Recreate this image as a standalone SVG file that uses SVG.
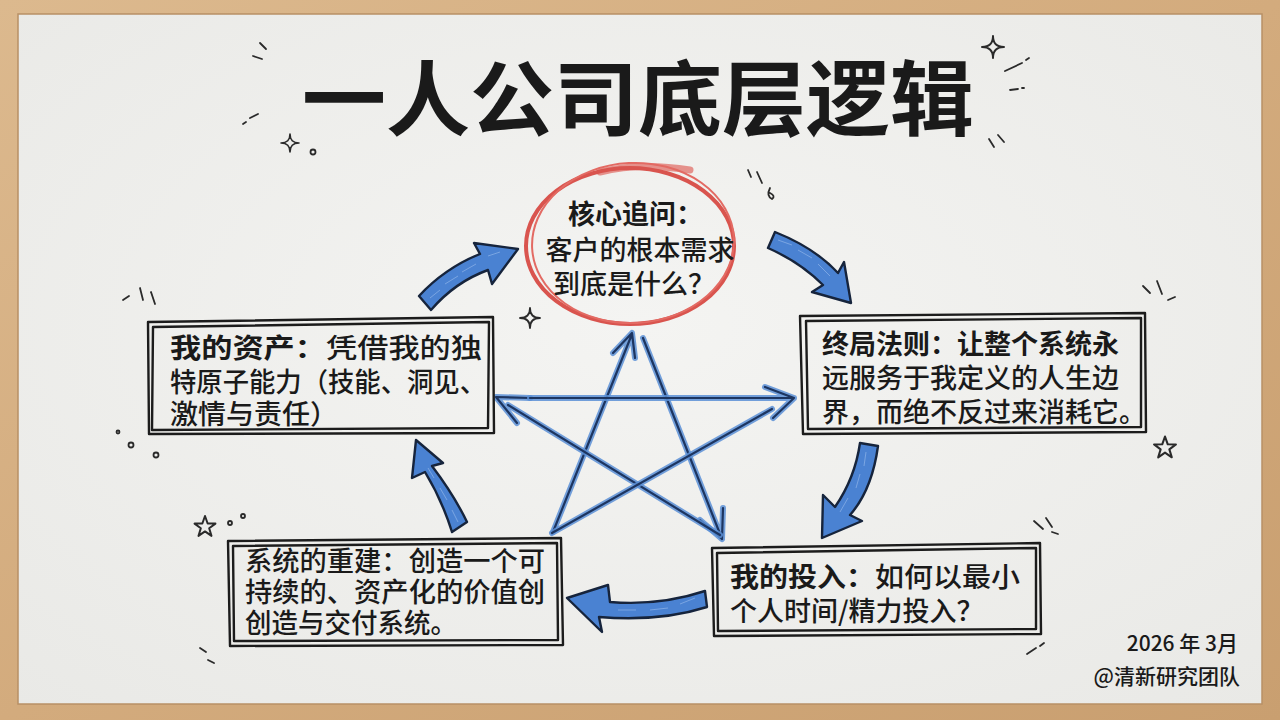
<svg xmlns="http://www.w3.org/2000/svg" width="1280" height="720" viewBox="0 0 1280 720">
<defs>
<linearGradient id="wood" x1="0" y1="0" x2="1" y2="1">
<stop offset="0" stop-color="#dcb98e"/>
<stop offset="0.5" stop-color="#d3ab7d"/>
<stop offset="1" stop-color="#c99f70"/>
</linearGradient>
<radialGradient id="board" cx="0.5" cy="0.45" r="0.75">
<stop offset="0" stop-color="#f4f4f2"/>
<stop offset="1" stop-color="#e9e9e6"/>
</radialGradient>
<path id="spark" d="M0,-10 Q0,0 10,0 Q0,0 0,10 Q0,0 -10,0 Q0,0 0,-10 Z"/>
<path id="star5" d="M0,-10 L2.4,-3.2 L9.5,-3.1 L3.8,1.2 L5.9,8.1 L0,4 L-5.9,8.1 L-3.8,1.2 L-9.5,-3.1 L-2.4,-3.2 Z"/>
</defs>
<style>
.deco{fill:none;stroke:#2a2a2a;stroke-width:1.8;stroke-linecap:round;stroke-linejoin:round}
.box{fill:none;stroke:#1c1c1c;stroke-width:2.4;stroke-linejoin:round}
.t{font-family:"Noto Sans CJK SC","Noto Sans",sans-serif;fill:#1a1a1a}
.bt{font-size:27px;font-weight:500}
.b{font-weight:700}
.starL{fill:none;stroke:#5a8fd6;stroke-width:6;stroke-linecap:round;stroke-linejoin:round;opacity:0.85}
.starD{fill:none;stroke:#1d3560;stroke-width:2.2;stroke-linecap:round;stroke-linejoin:round}
.flow{fill:#4a82d2;stroke:#16243c;stroke-width:2.4;stroke-linejoin:round}
.hatch{fill:none;stroke:#8fb4e8;stroke-width:1;opacity:0.7}
</style>

<!-- frame and board -->
<rect x="0" y="0" width="1280" height="720" fill="url(#wood)"/>
<rect x="18" y="14" width="1244" height="690" fill="url(#board)" stroke="#b89066" stroke-width="1.5"/>

<!-- title -->
<g id="title">
<text class="t" x="302" y="129" font-size="82" font-weight="700" textLength="672" lengthAdjust="spacingAndGlyphs">一人公司底层逻辑</text>
</g>

<!-- decorations -->
<g id="decorations" class="deco">
<path d="M260,43 L266,49"/><path d="M253,56 L262,59"/><path d="M250,118 L258,114"/><path d="M243,124 L246,122"/>
<use href="#spark" transform="translate(290,143) scale(0.9)"/>
<circle cx="313" cy="152" r="2.5"/>
<use href="#spark" transform="translate(993,47) scale(1.1)"/>
<path d="M1005,71 L1022,63"/><path d="M1026,60 L1029,58"/><path d="M1010,90 L1018,89"/><path d="M1022,88 L1024,88"/>
<path d="M989,139 L994,147"/><path d="M998,135 L1004,142"/>
<path d="M748,170 L751,177"/><path d="M757,172 L762,183"/><path d="M770,188 Q766,196 772,199 Q776,196 770,193"/>
<use href="#spark" transform="translate(530,318) scale(1.0)"/>
<path d="M123,300 L129,296"/><path d="M140,288 L143,300"/><path d="M151,292 L155,304"/>
<circle cx="131" cy="445" r="2.5"/><circle cx="156" cy="455" r="2.5"/><circle cx="118" cy="432" r="1.5"/>
<use href="#star5" transform="translate(205,527) scale(1.1)"/>
<circle cx="230" cy="523" r="2"/><circle cx="243" cy="516" r="2"/>
<path d="M1143,286 L1150,293"/><path d="M1157,281 L1162,294"/><path d="M1168,300 L1175,297"/>
<use href="#star5" transform="translate(1165,448) scale(1.15)"/>
<path d="M1034,521 L1043,529"/><path d="M1046,518 L1052,527"/><path d="M1052,532 L1058,534"/>
<path d="M200,648 L206,652"/><path d="M208,660 L214,663"/>
<path d="M1027,654 L1036,648"/><path d="M1040,646 L1044,643"/>
</g>

<!-- star connectors and cycle arrows -->
<g id="connectors">
<g id="pentagram">
<path class="starL" d="M553,532 L632,334 M613,353 L632,333 L635,358"/>
<path class="starD" d="M553,532 L632,334 M613,353 L632,333 L635,358"/>
<path class="starL" d="M643,338 L722,539 M700,520 L722,539 L723,508"/>
<path class="starD" d="M643,338 L722,539 M700,520 L722,539 L723,508"/>
<path class="starL" d="M720,535 L508,405 M530,398 L496,397 L517,423"/>
<path class="starD" d="M720,535 L508,405 M530,398 L496,397 L517,423"/>
<path class="starL" d="M530,398 L794,398 M765,387 L794,398 L773,418"/>
<path class="starD" d="M530,398 L794,398 M765,387 L794,398 L773,418"/>
<path class="starL" d="M772,409 L552,533"/>
<path class="starD" d="M772,409 L552,533"/>
</g>
<g id="flow-arrows">
<path class="flow" d="M419,296 Q445,268 480,254 L474,243 L518,249 L492,284 L488,270 Q455,282 431,310 Z"/>
<path class="hatch" d="M430,298 L440,290 M445,284 L458,276 M462,272 L476,264 M488,256 L500,252"/>
<path class="flow" d="M775,232 Q815,248 838,273 L844,262 L851,303 L812,292 L823,285 Q800,262 768,248 Z"/>
<path class="hatch" d="M778,240 L792,245 M798,250 L812,258 M818,264 L830,276"/>
<path class="flow" d="M860,443 L878,446 Q872,490 850,515 L862,521 L822,538 L823,495 L835,507 Q855,478 860,443 Z"/>
<path class="hatch" d="M866,452 L864,466 M860,474 L856,488 M848,498 L840,512"/>
<path class="flow" d="M705,591 Q660,606 610,602 L608,585 L567,598 L602,632 L599,617 Q660,622 707,607 Z"/>
<path class="hatch" d="M695,598 L680,604 M668,608 L650,610 M636,610 L618,610"/>
<path class="flow" d="M452,532 Q442,500 425,472 L412,478 L416,440 L443,463 L432,466 Q454,495 467,522 Z"/>
<path class="hatch" d="M458,522 L452,510 M447,500 L440,488 M434,478 L428,468"/>
</g>
</g>

<!-- center circle node -->
<g id="node-core">
<path d="M600,172 Q640,162 690,170" fill="none" stroke="#e0706a" stroke-width="7" stroke-linecap="round" opacity="0.75"/>
<ellipse cx="630" cy="246" rx="104" ry="78" fill="none" stroke="#d9544e" stroke-width="4"/>
<ellipse cx="633" cy="243" rx="101" ry="80" fill="none" stroke="#e36a63" stroke-width="2" transform="rotate(-3 633 243)"/>
<text class="t" font-size="27" font-weight="700" x="568" y="224">核心追问：</text>
<text class="t" font-size="27" font-weight="500" x="640" y="260" text-anchor="middle">客户的根本需求</text>
<text class="t" font-size="27" font-weight="500" x="634" y="294" text-anchor="middle">到底是什么？</text>
</g>

<!-- left box -->
<g id="node-assets">
<path class="box" d="M148,322 L493,317 L494,433 L149,434 Z"/>
<path class="box" d="M153,327 L489,322 L488,428 L152,430 Z" stroke-width="1.8"/>
<text class="t bt" x="170" y="358" textLength="312" lengthAdjust="spacingAndGlyphs"><tspan class="b">我的资产：</tspan>凭借我的独</text>
<text class="t bt" x="170" y="392" textLength="316" lengthAdjust="spacingAndGlyphs">特原子能力（技能、洞见、</text>
<text class="t bt" x="170" y="424" textLength="168" lengthAdjust="spacingAndGlyphs">激情与责任）</text>
</g>

<!-- right box -->
<g id="node-endgame">
<path class="box" d="M800,316 L1145,313 L1146,432 L803,434 Z"/>
<path class="box" d="M806,321 L1141,318 L1141,427 L808,429 Z" stroke-width="1.8"/>
<text class="t bt" x="822" y="354"><tspan class="b">终局法则：</tspan><tspan class="b">让整个系统永</tspan></text>
<text class="t bt" x="822" y="388">远服务于我定义的人生边</text>
<text class="t bt" x="822" y="422">界，而绝不反过来消耗它。</text>
</g>

<!-- bottom right box -->
<g id="node-input">
<path class="box" d="M712,548 L1040,543 L1041,634 L714,636 Z"/>
<path class="box" d="M717,553 L1036,548 L1036,629 L718,631 Z" stroke-width="1.8"/>
<text class="t bt" font-size="28" x="730" y="587" textLength="290" lengthAdjust="spacingAndGlyphs"><tspan class="b">我的投入：</tspan>如何以最小</text>
<text class="t bt" font-size="28" x="730" y="621">个人时间/精力投入？</text>
</g>

<!-- bottom left box -->
<g id="node-rebuild">
<path class="box" d="M228,541 L561,538 L563,645 L230,646 Z"/>
<path class="box" d="M233,546 L557,543 L558,640 L234,641 Z" stroke-width="1.8"/>
<text class="t bt" x="245" y="571" textLength="300" lengthAdjust="spacingAndGlyphs">系统的重建：创造一个可</text>
<text class="t bt" x="245" y="602" textLength="300" lengthAdjust="spacingAndGlyphs">持续的、资产化的价值创</text>
<text class="t bt" x="245" y="633" textLength="212" lengthAdjust="spacingAndGlyphs">创造与交付系统。</text>
</g>

<!-- signature -->
<g id="signature">
<text class="t" font-size="21" font-weight="500" x="1238" y="651" text-anchor="end">2026 年 3月</text>
<text class="t" font-size="21" font-weight="500" x="1240" y="684" text-anchor="end">@清新研究团队</text>
</g>
</svg>
